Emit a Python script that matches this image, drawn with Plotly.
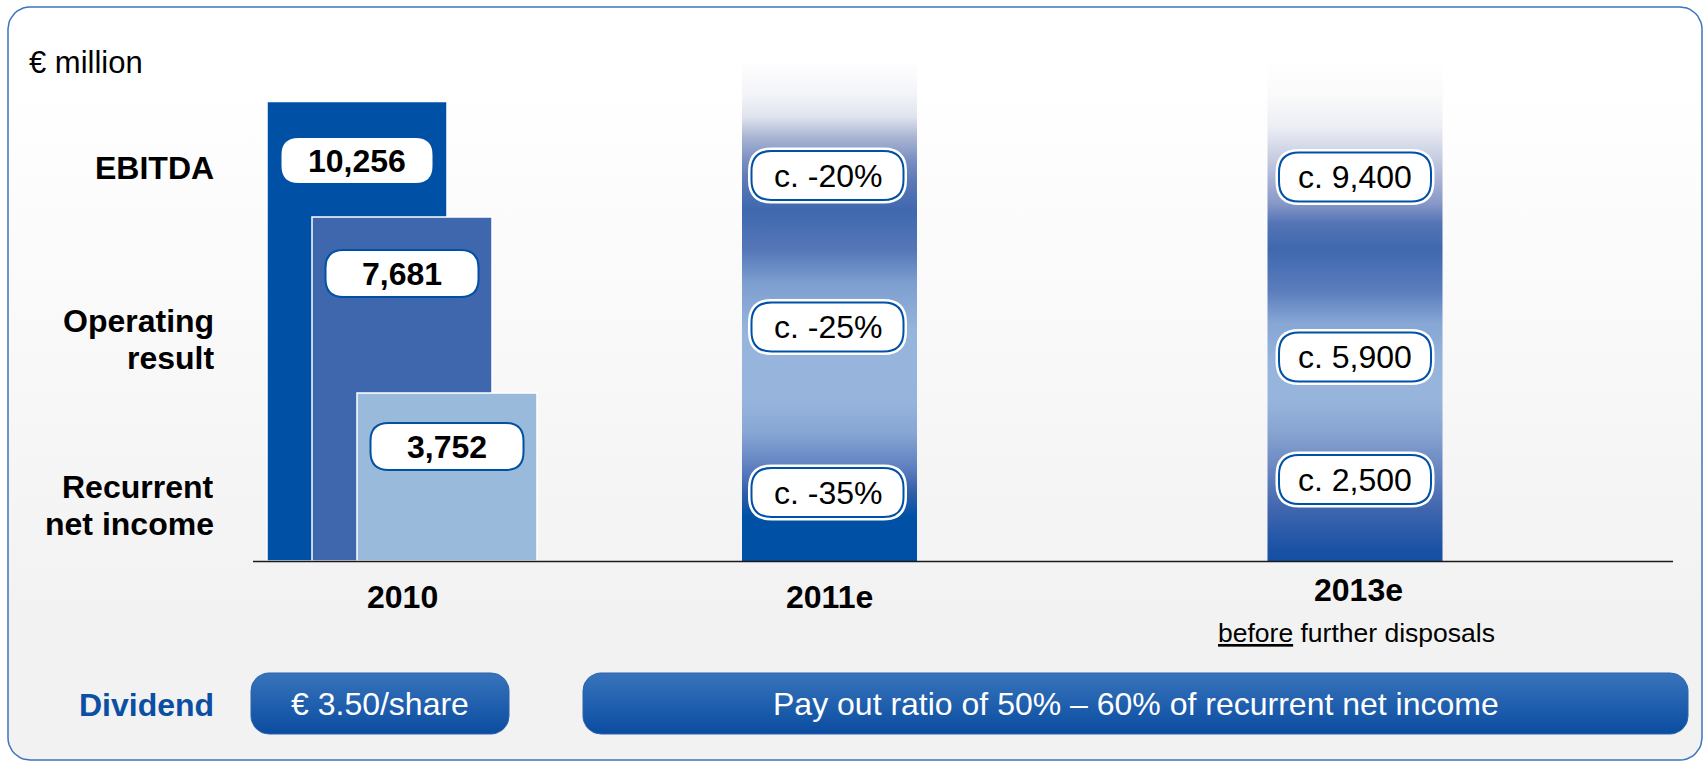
import plotly.graph_objects as go

# ---------------- data ----------------
metrics = ["EBITDA", "Operating result", "Recurrent net income"]
years = ["2010", "2011e", "2013e"]
values_2010 = [10256, 7681, 3752]
change_2011e = ["c. -20%", "c. -25%", "c. -35%"]
target_2013e = [9400, 5900, 2500]
unit_label = "€ million"
note_2013e = "<u>before</u> further disposals"
dividend_title = "Dividend"
dividend_2010 = "€ 3.50/share"
dividend_policy = "Pay out ratio of 50% – 60% of recurrent net income"

# ---------------- layout constants (pixels) ----------------
W, H = 1707, 762
BASE_PX = 561            # baseline pixel row
K = 0.0448               # pixels per € million
FONT = "Liberation Sans, Arial, sans-serif"
FS = 32
DARK, MID, LIGHT = "#0050a5", "#3e67ae", "#9abadc"
BAR_COLORS = [DARK, MID, LIGHT]

GROUP_X = [402, 829.5, 1355]      # centres of the three year columns
BAR_OFFSETS = [-45, 0, 45]
BAR_W = 180
COL_W = 175
COL_TOP_PX = 60

LABEL_Y_2010 = [160.5, 273.5, 446.5]
LABEL_Y_2011 = [175.5, 327, 492.5]
LABEL_Y_2013 = [177, 357, 479.5]
METRIC_Y = [168, 339.5, 505]
LINE_GAP = 37


def to_val(py):
    return (BASE_PX - py) / K


def fy(py):  # background axes: y up, pixel units
    return H - py


def rr_path(cx, cy, w, h, r):
    x0, x1 = cx - w / 2, cx + w / 2
    y0, y1 = fy(cy - h / 2), fy(cy + h / 2)  # y0 top (bigger), y1 bottom
    return (f"M{x0 + r},{y0} L{x1 - r},{y0} Q{x1},{y0} {x1},{y0 - r} "
            f"L{x1},{y1 + r} Q{x1},{y1} {x1 - r},{y1} L{x0 + r},{y1} "
            f"Q{x0},{y1} {x0},{y1 + r} L{x0},{y0 - r} Q{x0},{y0} {x0 + r},{y0} Z")


def rr_poly(x0, py0, x1, py1, r, n=10):
    import math
    xs, ys = [], []
    corners = [
        (x1 - r, py0 + r, -90, 0),
        (x1 - r, py1 - r, 0, 90),
        (x0 + r, py1 - r, 90, 180),
        (x0 + r, py0 + r, 180, 270),
    ]
    for cx, cy, a0, a1 in corners:
        for i in range(n + 1):
            a = math.radians(a0 + (a1 - a0) * i / n)
            xs.append(cx + r * math.cos(a))
            ys.append(fy(cy + r * math.sin(a)))
    xs.append(xs[0])
    ys.append(ys[0])
    return xs, ys


fig = go.Figure()

# ---------- background panel (subplot xy, pixel units) ----------
px_, py_ = rr_poly(8, 7, 1702, 760, 22)
fig.add_trace(go.Scatter(
    x=px_, y=py_, mode="lines", fill="toself",
    line=dict(color="#3b74be", width=1.5),
    fillgradient=dict(type="vertical", start=fy(760), stop=fy(7),
                      colorscale=[[0, "#f2f2f2"], [0.2, "#f2f2f2"],
                                  [0.9, "#ffffff"], [1, "#ffffff"]]),
    hoverinfo="skip", showlegend=False, xaxis="x", yaxis="y"))

# dividend boxes (gradient filled)
for (x0, x1) in [(251, 509), (583, 1688)]:
    bx, by = rr_poly(x0, 673, x1, 734, 18)
    fig.add_trace(go.Scatter(
        x=bx, y=by, mode="lines", fill="toself",
        line=dict(color="#2a62ad", width=1),
        fillgradient=dict(type="vertical", start=fy(734), stop=fy(673),
                          colorscale=[[0, "#0a4ca1"], [1, "#3874bb"]]),
        hoverinfo="skip", showlegend=False, xaxis="x", yaxis="y"))

# ---------- data subplot x2y2 ----------
fig.add_trace(go.Bar(
    x=[GROUP_X[0] + o for o in BAR_OFFSETS], y=values_2010, width=BAR_W,
    marker=dict(color=BAR_COLORS, line=dict(color="white", width=1.5)),
    hoverinfo="skip", showlegend=False, xaxis="x2", yaxis="y2"))

top_val = to_val(COL_TOP_PX)


def scale_from(stops):
    out = []
    for py, c in stops:
        f = (BASE_PX - py) / (BASE_PX - COL_TOP_PX)
        out.append([max(0.0, min(1.0, f)), c])
    out.sort(key=lambda s: s[0])
    return out


grad_2011 = scale_from([
    (561, "#0050a5"), (517, "#0050a5"), (493, "#2f5eaa"), (467, "#5f80c0"),
    (433, "#87a6d4"), (400, "#97b5dc"), (333, "#97b5dc"), (283, "#7d9ecf"),
    (250, "#5577b8"), (210, "#3f68ae"), (180, "#5c79b7"), (160, "#7a8fc2"),
    (137, "#aab5d3"), (117, "#dfe3ee"), (95, "#f3f4f8"), (60, "#ffffff")])
grad_2013 = scale_from([
    (561, "#1450a5"), (550, "#1a52a5"), (510, "#3f65ae"), (467, "#6a88c2"),
    (433, "#87a3d0"), (400, "#97b5dc"), (367, "#97b5dc"), (323, "#86a6d4"),
    (290, "#5a7cbd"), (250, "#3f68ae"), (223, "#5574b5"), (203, "#8898c8"),
    (160, "#c4cbe0"), (127, "#eceef4"), (95, "#fafafa"), (60, "#ffffff")])

for cx, grad in [(GROUP_X[1], grad_2011), (GROUP_X[2], grad_2013)]:
    l, r = cx - COL_W / 2, cx + COL_W / 2
    fig.add_trace(go.Scatter(
        x=[l, r, r, l, l], y=[0, 0, top_val, top_val, 0],
        mode="lines", fill="toself", line=dict(width=0),
        fillgradient=dict(type="vertical", start=0, stop=top_val, colorscale=grad),
        hoverinfo="skip", showlegend=False, xaxis="x2", yaxis="y2"))

# ---------- shapes & annotations ----------
shapes = []
annotations = []

# baseline
shapes.append(dict(type="line", xref="x", yref="y", x0=253, x1=1673,
                   y0=fy(BASE_PX + 0.5), y1=fy(BASE_PX + 0.5),
                   line=dict(color="#1a1a1a", width=1.5), layer="above"))


def ann(x, py, text, size=FS, bold=False, color="black", xanchor="center"):
    annotations.append(dict(
        x=x, y=fy(py), xref="x", yref="y", text=text, showarrow=False,
        xanchor=xanchor, yanchor="middle",
        font=dict(family=FONT, size=size, color=color,
                  weight="bold" if bold else "normal")))


# 2010 value labels
for i, v in enumerate(values_2010):
    cx = GROUP_X[0] + BAR_OFFSETS[i]
    shapes.append(dict(type="path", xref="x", yref="y",
                       path=rr_path(cx, LABEL_Y_2010[i], 153, 47, 18),
                       fillcolor="white", line=dict(color=DARK, width=2),
                       layer="above"))
    ann(cx, LABEL_Y_2010[i], f"{v:,}", bold=True)

# 2011e / 2013e labels


def halo_label(cx, cy, text):
    p = rr_path(cx, cy, 152, 49, 20)
    shapes.append(dict(type="path", xref="x", yref="y", path=p,
                       fillcolor="white", line=dict(color="white", width=7),
                       layer="above"))
    shapes.append(dict(type="path", xref="x", yref="y", path=p,
                       fillcolor="white", line=dict(color=DARK, width=2),
                       layer="above"))
    ann(cx, cy, text)


for i, t in enumerate(change_2011e):
    halo_label(GROUP_X[1] - 2, LABEL_Y_2011[i], t)
for i, v in enumerate(target_2013e):
    halo_label(GROUP_X[2], LABEL_Y_2013[i], f"c. {v:,}")

# metric row labels
for i, m in enumerate(metrics):
    parts = m.split(" ", 1) if " " in m else [m]
    n = len(parts)
    for j, line in enumerate(parts):
        py = METRIC_Y[i] + (j - (n - 1) / 2) * LINE_GAP
        ann(216, py, line, bold=True, xanchor="right")

# unit
ann(27, 62, unit_label, size=31, xanchor="left")

# year labels
ann(GROUP_X[0], 597, years[0], bold=True)
ann(GROUP_X[1], 597, years[1], bold=True)
ann(GROUP_X[2] + 3, 590, years[2], bold=True)
ann(GROUP_X[2] + 1, 633, note_2013e, size=26.5)

# dividend row
ann(216, 705, dividend_title, bold=True, color="#0b4fa3", xanchor="right")
ann((251 + 509) / 2, 704, dividend_2010, color="white")
ann((583 + 1688) / 2, 704, dividend_policy, color="white")

fig.update_layout(
    width=W, height=H,
    margin=dict(l=0, r=0, t=0, b=0),
    paper_bgcolor="white", plot_bgcolor="rgba(0,0,0,0)",
    barmode="overlay", showlegend=False,
    xaxis=dict(domain=[0, 1], range=[0, W], visible=False, fixedrange=True),
    yaxis=dict(domain=[0, 1], range=[0, H], visible=False, fixedrange=True),
    xaxis2=dict(domain=[0, 1], range=[0, W], visible=False, fixedrange=True,
                anchor="y2"),
    yaxis2=dict(domain=[0, 1], range=[to_val(H), to_val(0)], visible=False,
                fixedrange=True, anchor="x2"),
    shapes=shapes, annotations=annotations,
)

fig.write_html("out.html", config={"displayModeBar": False, "staticPlot": True},
               post_script="document.body.style.margin='0';")
